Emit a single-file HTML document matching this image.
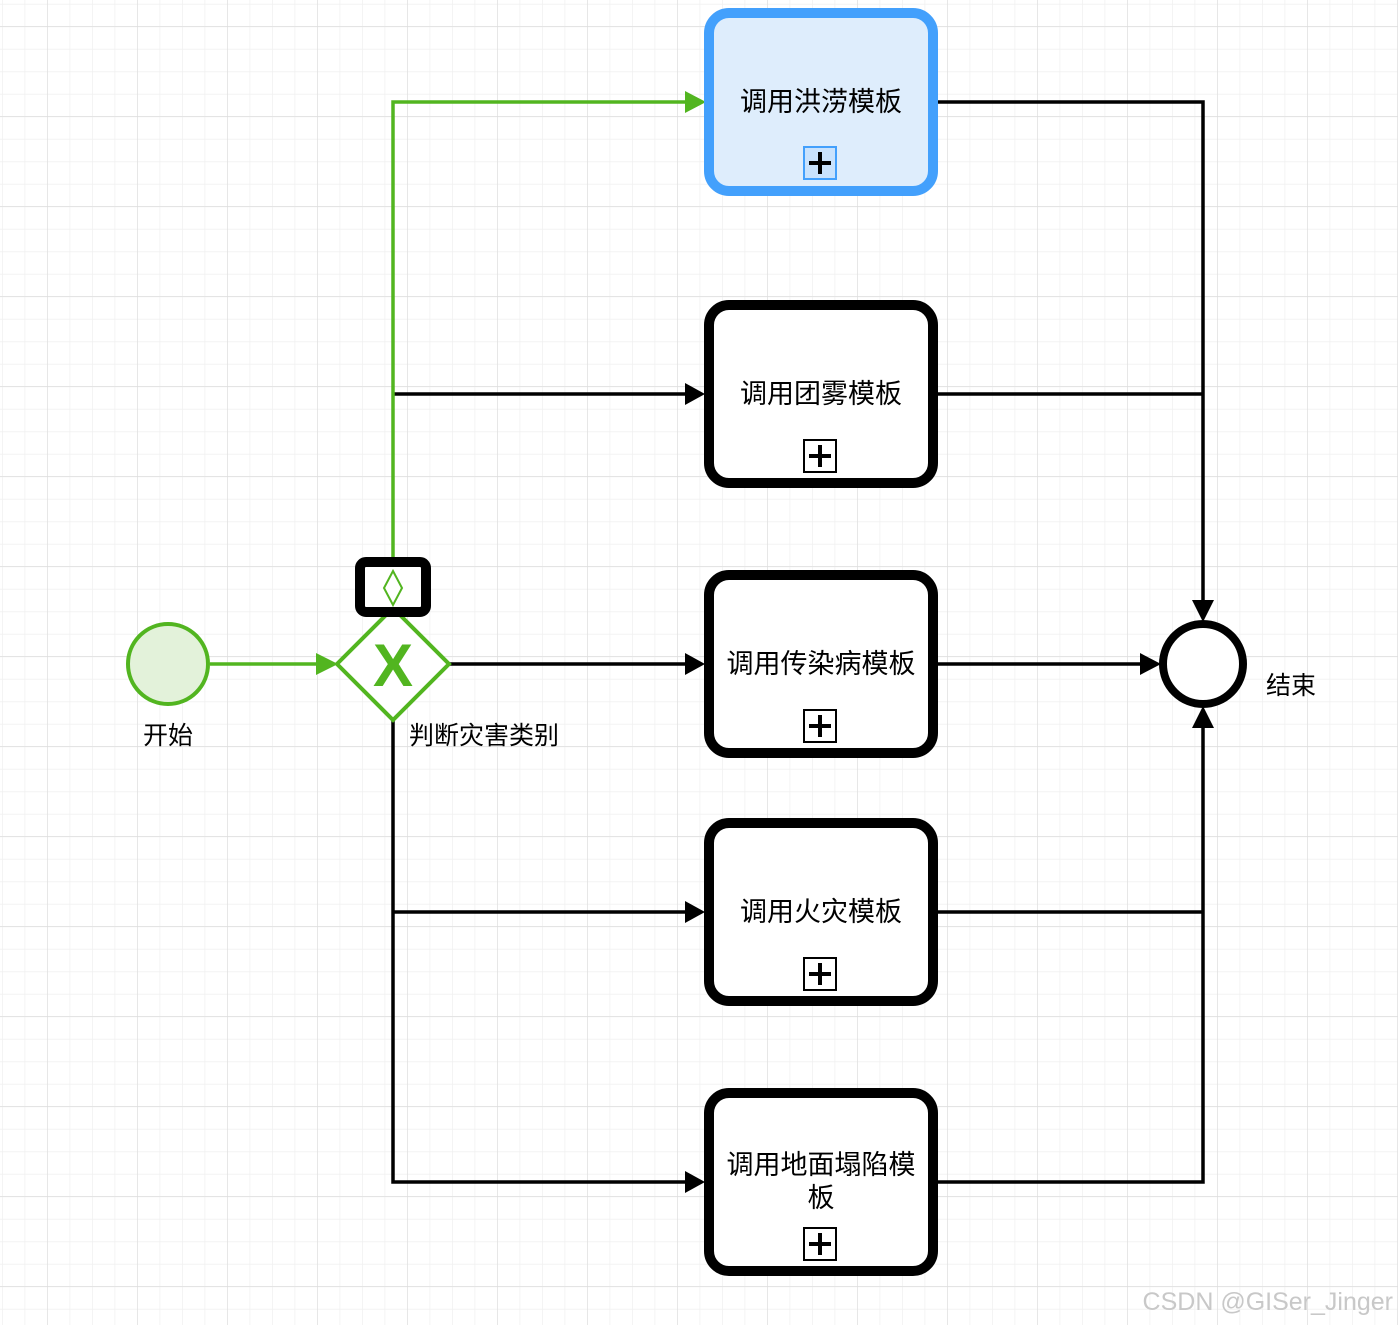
<!DOCTYPE html>
<html><head><meta charset="utf-8"><style>
html,body{margin:0;padding:0;background:#fff;}
svg{display:block;}
text{font-family:"Liberation Sans","Noto Sans CJK SC",sans-serif;}
</style></head><body>
<svg width="1398" height="1325" xmlns="http://www.w3.org/2000/svg">
<defs>
<pattern id="mi" x="2" y="3.8" width="22.5" height="22.5" patternUnits="userSpaceOnUse">
<path d="M0 0H22.5M0 0V22.5" stroke="#f0f0f0" stroke-width="1.5" fill="none"/></pattern>
<pattern id="ma" x="47" y="26" width="90" height="90" patternUnits="userSpaceOnUse">
<path d="M0 0H90M0 0V90" stroke="#dcdcdc" stroke-width="1.2" fill="none"/></pattern>
</defs>
<rect width="1398" height="1325" fill="url(#mi)"/>
<rect width="1398" height="1325" fill="url(#ma)"/>

<g stroke="#000" stroke-width="3.5" fill="none">
<path d="M393 720V1182H690"/>
<path d="M393 912H690"/>
<path d="M393 394H690"/>
<path d="M449 664H690"/>
<path d="M938 102H1203V604"/>
<path d="M938 394H1203"/>
<path d="M938 912H1203"/>
<path d="M938 1182H1203V724"/>
<path d="M938 664H1143"/>
</g>
<g fill="#000">
<path d="M705 394L685 383V405Z"/>
<path d="M705 664L685 653V675Z"/>
<path d="M705 912L685 901V923Z"/>
<path d="M705 1182L685 1171V1193Z"/>
<path d="M1161 664L1140 653V675Z"/>
<path d="M1203 622L1192 600H1214Z"/>
<path d="M1203 706L1192 728H1214Z"/>
</g>
<g stroke="#52b520" stroke-width="3.5" fill="none">
<path d="M393 560V102H690"/>
<path d="M210 664H320"/>
</g>
<g fill="#52b520">
<path d="M706 102L685 91V113Z"/>
<path d="M338 664L316 653V675Z"/>
</g>

<circle cx="168" cy="664" r="40" fill="#e3f2da" stroke="#52b520" stroke-width="4"/>
<text x="168" y="744" font-size="25" text-anchor="middle">开始</text>

<path d="M393 608L449 664L393 720L337 664Z" fill="#fff" stroke="#52b520" stroke-width="4"/>
<text x="393" y="686" font-size="60" font-weight="bold" fill="#52b520" text-anchor="middle">X</text>
<rect x="360" y="562" width="66" height="50" rx="6" fill="#fff" stroke="#000" stroke-width="10"/>
<path d="M393 571L402 588L393 605L384 588Z" fill="#fff" stroke="#52b520" stroke-width="2"/>
<text x="409" y="744" font-size="25">判断灾害类别</text>

<circle cx="1203" cy="664" r="40" fill="#fff" stroke="#000" stroke-width="8"/>
<text x="1266" y="694" font-size="25">结束</text>

<rect x="709" y="13" width="224" height="178" rx="20" fill="#deedfc" stroke="#43a0fc" stroke-width="10"/>
<text x="821" y="111" font-size="27" text-anchor="middle">调用洪涝模板</text>
<rect x="804" y="147" width="32" height="32" fill="#c9e2fc" stroke="#43a0fc" stroke-width="2"/>
<path d="M820 152V174M809 163H831" stroke="#000" stroke-width="4"/>

<g fill="#fff" stroke="#000" stroke-width="10">
<rect x="709" y="305" width="224" height="178" rx="20"/>
<rect x="709" y="575" width="224" height="178" rx="20"/>
<rect x="709" y="823" width="224" height="178" rx="20"/>
<rect x="709" y="1093" width="224" height="178" rx="20"/>
</g>
<g font-size="27" text-anchor="middle">
<text x="821" y="403">调用团雾模板</text>
<text x="821" y="673">调用传染病模板</text>
<text x="821" y="921">调用火灾模板</text>
<text x="821" y="1174">调用地面塌陷模</text>
<text x="821" y="1207">板</text>
</g>
<g fill="#fff" stroke="#000" stroke-width="2">
<rect x="804" y="440" width="32" height="32"/>
<rect x="804" y="710" width="32" height="32"/>
<rect x="804" y="958" width="32" height="32"/>
<rect x="804" y="1228" width="32" height="32"/>
</g>
<g stroke="#000" stroke-width="4">
<path d="M820 445V467M809 456H831"/>
<path d="M820 715V737M809 726H831"/>
<path d="M820 963V985M809 974H831"/>
<path d="M820 1233V1255M809 1244H831"/>
</g>
<text x="1393" y="1310" font-size="25" fill="#c8c8c8" text-anchor="end">CSDN @GISer_Jinger</text>
</svg>
</body></html>
